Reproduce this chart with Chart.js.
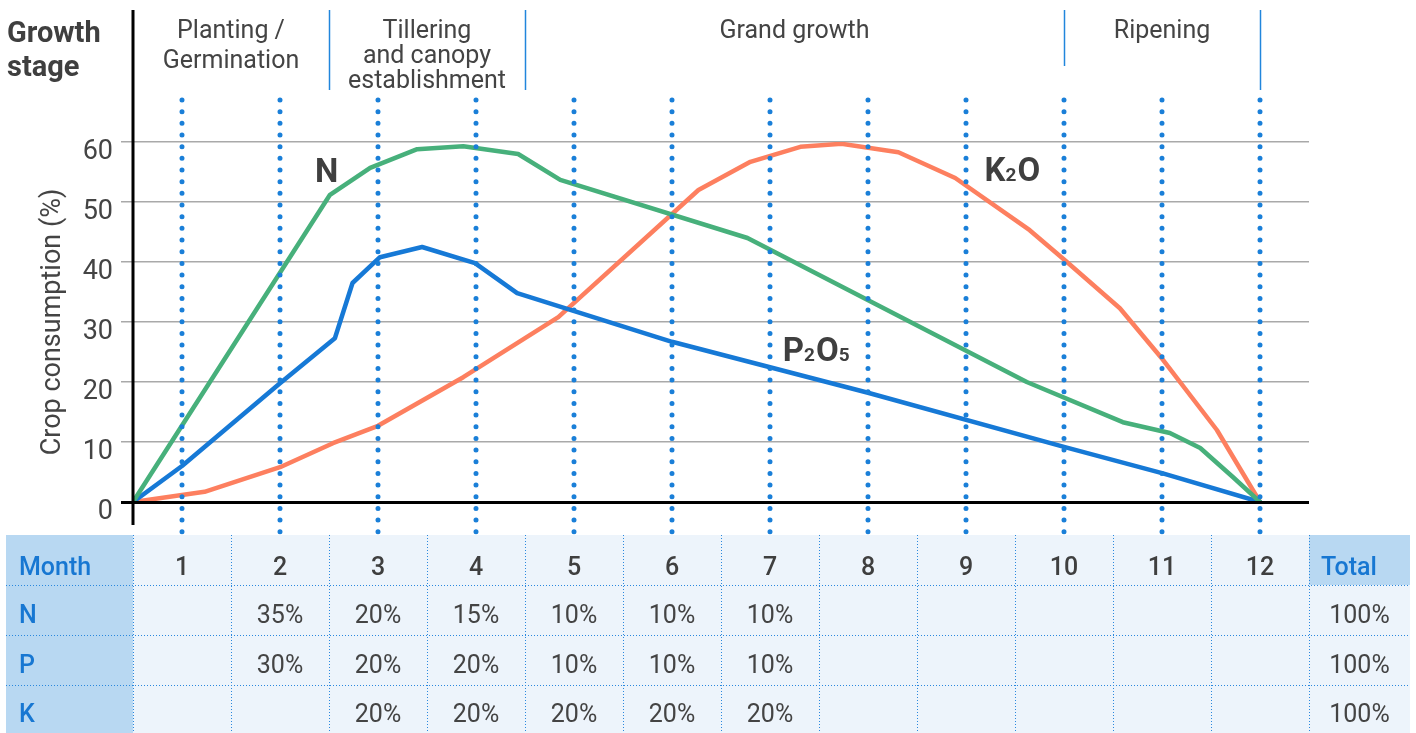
<!DOCTYPE html>
<html>
<head>
<meta charset="utf-8">
<script src="https://cdn.jsdelivr.net/npm/chart.js@4.4.1/dist/chart.umd.min.js"></script>
<style>
  html, body { margin: 0; padding: 0; background: #ffffff; }
  #wrap { width: 1416px; height: 733px; position: relative; }
</style>
</head>
<body>
<div id="wrap"><canvas id="c" width="1416" height="733"></canvas></div>
<script>
// Months shown along the bottom table
const months = [1, 2, 3, 4, 5, 6, 7, 8, 9, 10, 11, 12];

// Monthly share of each nutrient (%), null = no entry
const nitrogenShare   = [null, 35, 20, 15, 10, 10, 10, null, null, null, null, null];
const phosphorusShare = [null, 30, 20, 20, 10, 10, 10, null, null, null, null, null];
const potassiumShare  = [null, null, 20, 20, 20, 20, 20, null, null, null, null, null];
const rowNames = ['N', 'P', 'K'];
const rowTotals = [100, 100, 100];

// Y axis tick values (%)
const yTicks = [0, 10, 20, 30, 40, 50, 60];

// Crop consumption curves: [month, consumption %]
const nitrogenCurve = [[0.5, 0], [2.51, 51.2], [2.92, 55.7], [3.40, 58.8], [3.87, 59.3], [4.43, 58.0],
  [4.86, 53.7], [6.77, 44.0], [9.62, 20.0], [10.60, 13.3], [11.08, 11.5], [11.39, 9.0], [11.72, 4.2], [12, 0]];
const phosphateCurve = [[0.5, 0], [1, 6.0], [2, 19.8], [2.56, 27.3], [2.74, 36.5], [3.02, 40.8], [3.45, 42.5],
  [3.99, 39.8], [4.42, 34.8], [6, 26.7], [8, 18.2], [10, 9.2], [11, 4.8], [12, 0]];
const potashCurve = [[0.5, 0], [1.23, 1.7], [2, 5.8], [2.54, 9.8], [3, 12.7], [3.87, 20.8], [4.84, 30.8],
  [6.27, 52.0], [6.80, 56.7], [7.31, 59.2], [7.73, 59.7], [8.31, 58.3], [8.89, 54.0], [9.65, 45.3],
  [10.03, 40.0], [10.57, 32.3], [11.01, 23.7], [11.56, 12.0], [12, 0]];

// Curve labels: text parts [text, isSubscript] and anchor [month, %]
const curveLabels = [
  { parts: [['N', false]], at: [2.357, 53.3] },
  { parts: [['K', false], ['2', true], ['O', false]], at: [9.19, 53.5] },
  { parts: [['P', false], ['2', true], ['O', false], ['5', true]], at: [7.13, 23.5] }
];

// Growth stages spanning month ranges
const stageNames = [['Planting /', 'Germination'], ['Tillering', 'and canopy', 'establishment'], ['Grand growth'], ['Ripening']];
const stageStarts = [0.5, 2.5, 4.5, 10];
const stageEnds   = [2.5, 4.5, 10, 12];

const FONT = 'Roboto, "Open Sans", sans-serif';
const DOT_BLUE = '#1a7fd8';
const TEXT_DARK = '#3f3f3f';
const LABEL_BLUE = '#1777d2';

const toPoints = arr => arr.map(([x, y]) => ({ x, y }));

const decorPlugin = {
  id: 'decor',
  beforeDatasetsDraw(chart) {
    const ctx = chart.ctx;
    const xs = chart.scales.x;
    const ys = chart.scales.y;
    const area = chart.chartArea;
    ctx.save();

    // Header: growth stage label
    ctx.fillStyle = TEXT_DARK;
    ctx.font = 'bold 29px ' + FONT;
    ctx.textAlign = 'left';
    ctx.textBaseline = 'alphabetic';
    ctx.fillText('Growth', 7, 42);
    ctx.fillText('stage', 7, 76);

    // Stage names centred over their month ranges
    ctx.font = '25px ' + FONT;
    ctx.textAlign = 'center';
    ctx.fillStyle = '#444444';
    stageNames.forEach((lines, i) => {
      const cx = (xs.getPixelForValue(stageStarts[i]) + xs.getPixelForValue(stageEnds[i])) / 2;
      const step = lines.length > 2 ? 25 : 30;
      lines.forEach((t, j) => ctx.fillText(t, cx, 38 + j * step));
    });

    // Stage dividers
    ctx.strokeStyle = '#2186dc';
    ctx.lineWidth = 1.5;
    stageEnds.forEach((m, i) => {
      const x = Math.round(xs.getPixelForValue(m)) + 0.5;
      ctx.beginPath();
      ctx.moveTo(x, 10);
      ctx.lineTo(x, i === 2 ? 66 : 90);
      ctx.stroke();
    });

    // Y axis title
    ctx.save();
    ctx.translate(53, (ys.getPixelForValue(0) + ys.getPixelForValue(60)) / 2);
    ctx.rotate(-Math.PI / 2);
    ctx.font = '27px ' + FONT;
    ctx.fillStyle = '#444444';
    ctx.textAlign = 'center';
    ctx.textBaseline = 'middle';
    ctx.fillText('Crop consumption (%)', 0, 0);
    ctx.restore();

    // Table
    const tableTop = 535, rowH = [50, 50, 49.5, 49.5];
    const rowTops = [tableTop];
    rowH.forEach((h, i) => rowTops.push(rowTops[i] + h));
    const colLeft = 6, labelRight = area.left, totalRight = 1410;
    const tableBottom = rowTops[rowTops.length - 1];

    ctx.fillStyle = '#edf4fb';
    ctx.fillRect(colLeft, tableTop, totalRight - colLeft, tableBottom - tableTop);
    ctx.fillStyle = '#b8d8f2';
    ctx.fillRect(colLeft, tableTop, labelRight - colLeft, tableBottom - tableTop);
    ctx.fillRect(area.right, tableTop, totalRight - area.right, rowH[0]);

    // Dotted cell borders
    ctx.strokeStyle = '#2a88de';
    ctx.lineWidth = 1;
    ctx.setLineDash([1, 2]);
    const colEdges = [area.left];
    months.forEach(m => colEdges.push(xs.getPixelForValue(m + 0.5)));
    colEdges.forEach(px => {
      const x = Math.round(px) + 0.5;
      ctx.beginPath();
      ctx.moveTo(x, tableTop);
      ctx.lineTo(x, tableBottom);
      ctx.stroke();
    });
    rowTops.slice(1, -1).forEach(py => {
      const y = Math.round(py) + 0.5;
      ctx.beginPath();
      ctx.moveTo(colLeft, y);
      ctx.lineTo(totalRight, y);
      ctx.stroke();
    });
    ctx.setLineDash([]);

    // Table text
    ctx.textBaseline = 'alphabetic';
    const rowBase = i => (rowTops[i] + rowTops[i + 1]) / 2 + (i === 0 ? 15 : 13);
    ctx.font = '500 25px ' + FONT;
    ctx.fillStyle = LABEL_BLUE;
    ctx.textAlign = 'left';
    ctx.fillText('Month', 19, rowBase(0));
    rowNames.forEach((n, i) => ctx.fillText(n, 19, rowBase(i + 1)));
    ctx.fillText('Total', 1321, rowBase(0));

    ctx.textAlign = 'center';
    ctx.fillStyle = TEXT_DARK;
    ctx.font = '500 25px ' + FONT;
    months.forEach(m => ctx.fillText(String(m), xs.getPixelForValue(m), rowBase(0)));

    ctx.font = '25px ' + FONT;
    ctx.fillStyle = '#444444';
    [nitrogenShare, phosphorusShare, potassiumShare].forEach((row, r) => {
      row.forEach((v, i) => {
        if (v !== null) ctx.fillText(v + '%', xs.getPixelForValue(months[i]), rowBase(r + 1));
      });
      ctx.fillText(rowTotals[r] + '%', (area.right + totalRight) / 2, rowBase(r + 1));
    });

    ctx.restore();
  },
  afterDatasetsDraw(chart) {
    const ctx = chart.ctx;
    const xs = chart.scales.x;
    const ys = chart.scales.y;
    const area = chart.chartArea;
    ctx.save();

    // Axis lines
    ctx.strokeStyle = '#000000';
    ctx.lineWidth = 3;
    const y0 = ys.getPixelForValue(0) + 0.5;
    ctx.beginPath();
    ctx.moveTo(area.left - 12, y0);
    ctx.lineTo(area.right, y0);
    ctx.stroke();
    ctx.beginPath();
    ctx.moveTo(area.left, 10);
    ctx.lineTo(area.left, 525);
    ctx.stroke();

    // Dotted month markers
    ctx.strokeStyle = DOT_BLUE;
    ctx.lineWidth = 5;
    ctx.lineCap = 'round';
    ctx.setLineDash([0, 11.67]);
    months.forEach(m => {
      const x = xs.getPixelForValue(m);
      ctx.beginPath();
      ctx.moveTo(x, 100);
      ctx.lineTo(x, 534);
      ctx.stroke();
    });
    ctx.setLineDash([]);

    // Curve labels
    ctx.fillStyle = TEXT_DARK;
    ctx.textAlign = 'left';
    ctx.textBaseline = 'alphabetic';
    curveLabels.forEach(lbl => {
      let x = xs.getPixelForValue(lbl.at[0]);
      const y = ys.getPixelForValue(lbl.at[1]);
      lbl.parts.forEach(([t, sub]) => {
        ctx.font = (sub ? 'bold 19px ' : 'bold 33px ') + FONT;
        ctx.fillText(t, x, y);
        x += ctx.measureText(t).width + (sub ? 1 : 0);
      });
    });

    ctx.restore();
  }
};

new Chart(document.getElementById('c'), {
  type: 'line',
  data: {
    datasets: [
      { label: 'N', data: toPoints(nitrogenCurve), borderColor: '#47b07b', borderWidth: 4.5 },
      { label: 'P2O5', data: toPoints(phosphateCurve), borderColor: '#1679d6', borderWidth: 4.5 },
      { label: 'K2O', data: toPoints(potashCurve), borderColor: '#fd7f5f', borderWidth: 4.5 }
    ]
  },
  options: {
    responsive: false,
    animation: false,
    events: [],
    elements: { point: { radius: 0 }, line: { tension: 0, borderJoinStyle: 'round', borderCapStyle: 'round' } },
    layout: { padding: { left: 0, right: 107, top: 142, bottom: 231 } },
    plugins: { legend: { display: false }, tooltip: { enabled: false } },
    scales: {
      x: { type: 'linear', min: 0.5, max: 12.5, display: false },
      y: {
        min: 0,
        max: 60,
        afterFit(scale) { scale.width = 133; },
        afterBuildTicks(scale) { scale.ticks = yTicks.map(v => ({ value: v })); },
        border: { display: false },
        grid: {
          color: c => (c.tick && c.tick.value === 0) ? 'rgba(0,0,0,0)' : '#a9a9a9',
          lineWidth: 1.5,
          tickLength: 12,
          drawTicks: true
        },
        ticks: {
          font: { family: FONT, size: 27 },
          color: '#444444',
          padding: 8,
          labelOffset: 10
        }
      }
    }
  },
  plugins: [decorPlugin]
});
</script>
</body>
</html>
